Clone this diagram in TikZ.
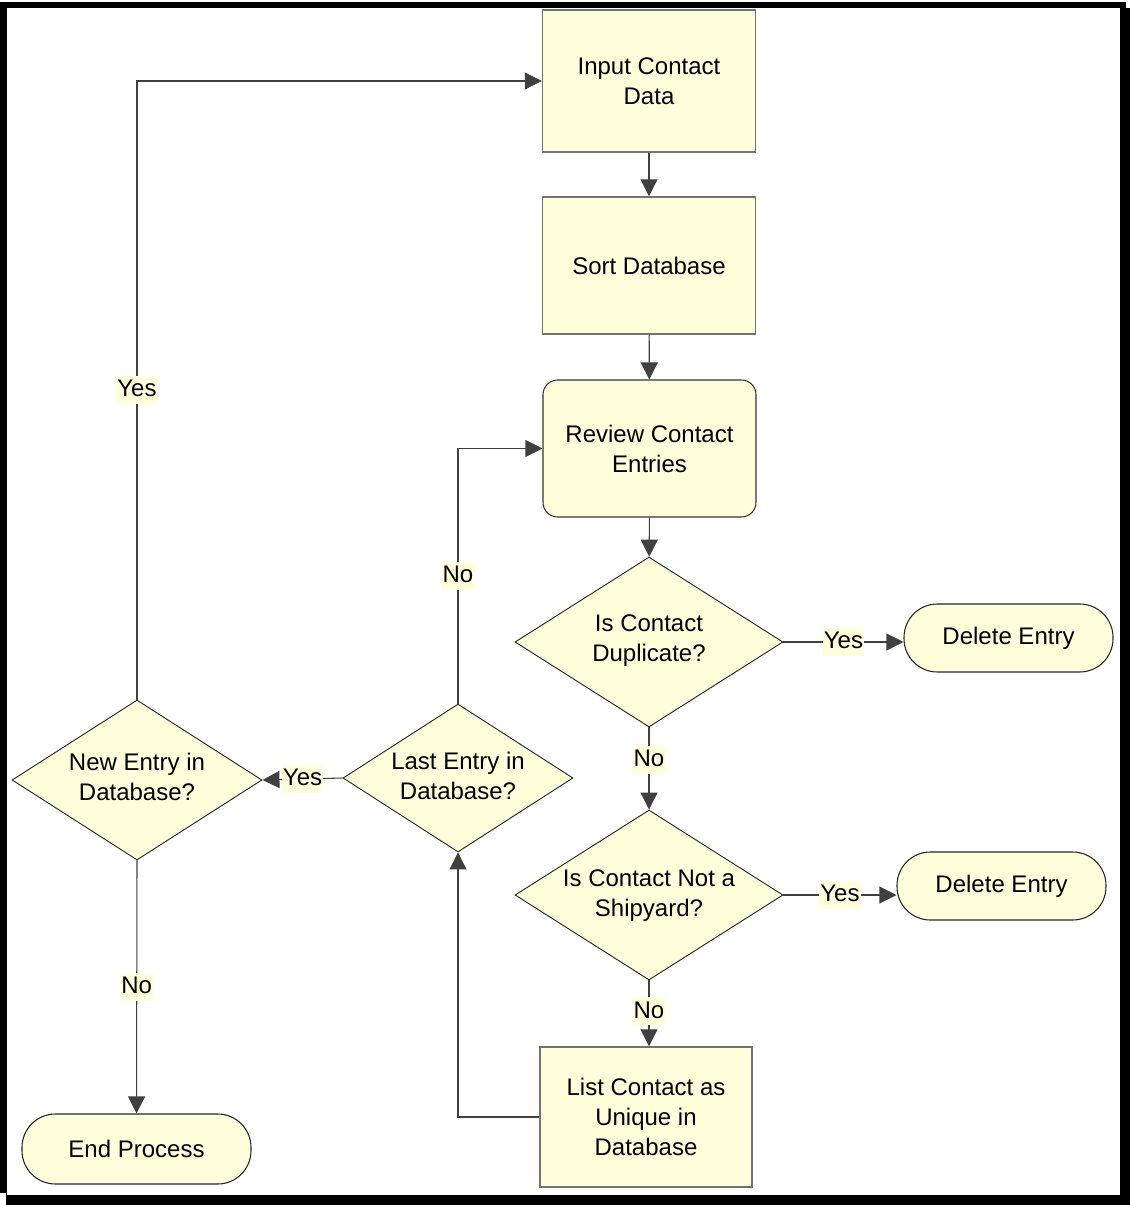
\documentclass[tikz,border=0pt]{standalone}
\usepackage{fontspec}
\setmainfont{Liberation Sans}
\usetikzlibrary{shapes.geometric,arrows.meta}
\definecolor{boxfill}{HTML}{FFFFDC}
\tikzset{
  base/.style={fill=boxfill, align=center, font=\fontsize{18}{22.5}\selectfont, inner sep=0pt},
  plaintext/.style={align=center, font=\fontsize{18}{22.5}\selectfont, inner sep=0pt},
  procbox/.style={base, draw=black!55, line width=1.1pt, rectangle, minimum width=159.75pt},
  roundbox/.style={base, draw=black!80, line width=0.8pt, rectangle, rounded corners=11pt, minimum width=159.75pt, minimum height=102.75pt},
  decision/.style={base, draw=black!85, line width=0.7pt, diamond},
  terminal/.style={base, draw=black!85, line width=0.8pt, rectangle, rounded corners=25pt},
  conn/.style={draw=black!75, line width=0.8pt},
  arr/.style={conn, -{Triangle[length=12.75pt,width=12.75pt]}},
  lbl/.style={fill=boxfill, font=\fontsize{18}{22.5}\selectfont, inner xsep=1pt, inner ysep=1.5pt, text height=14pt, text depth=4pt}
}
\begin{document}
\begin{tikzpicture}[x=0.75pt,y=-0.75pt]
\useasboundingbox (0,0) rectangle (1130,1205);
% frame with shadow
\fill[black] (0,2) rectangle (1126,1193);
\fill[black] (6,8) rectangle (1130,1205);
\fill[white] (7,8) rectangle (1120,1195);

% nodes
\node[procbox, minimum height=106.5pt] (input) at (649,81) {Input Contact\\Data};
\node[procbox, minimum height=102.75pt] (sort) at (649,265.5) {Sort Database};
\node[roundbox] (review) at (649.5,448.5) {Review Contact\\Entries};
\node[decision, minimum width=201pt, minimum height=127.5pt] (dup) at (649,642) {};
\node[plaintext] (duptext) at (649,641) {Is Contact\\Duplicate?};
\node[terminal, minimum width=156.75pt, minimum height=51pt] (del1) at (1008.5,638) {Delete Entry};
\node[decision, minimum width=201pt, minimum height=127.5pt] (ship) at (649,895) {};
\node[plaintext] (shiptext) at (649,896) {Is Contact Not a\\Shipyard?};
\node[terminal, minimum width=156.75pt, minimum height=51pt] (del2) at (1001.5,886) {Delete Entry};
\node[procbox, minimum width=159pt, minimum height=105pt] (list) at (646,1117) {List Contact as\\Unique in\\Database};
\node[decision, minimum width=172.5pt, minimum height=111pt] (last) at (458,778) {};
\node[plaintext] (lasttext) at (458,776) {Last Entry in\\Database?};
\node[decision, minimum width=187.5pt, minimum height=120pt] (new) at (137,780) {};
\node[plaintext] (newtext) at (137,777) {New Entry in\\Database?};
\node[terminal, minimum width=171.75pt, minimum height=52.5pt] (end) at (136.5,1149) {End Process};

% connectors
\draw[arr] (input) -- (sort);
\draw[arr] (sort) -- (review);
\draw[arr] (review) -- (dup);
\draw[arr] (dup.east) -- node[lbl] {Yes} (dup.east -| del1.west);
\draw[arr] (dup.south) -- node[lbl, pos=0.4] {No} (ship.north);
\draw[arr] (ship.east) -- node[lbl] {Yes} (ship.east -| del2.west);
\draw[arr] (ship.south) -- node[lbl, pos=0.47] {No} (ship.south |- list.north);
\draw[arr] (list.west) -| (last.south);
\draw[arr] (last.north) |- node[lbl, pos=0.25] {No} (review.west);
\draw[arr] (last.west) -- node[lbl] {Yes} (new.east);
\draw[arr] (new.north) |- node[lbl, pos=0.25] {Yes} (input.west);
\draw[arr] (new.south) -- node[lbl] {No} (end.north);
\end{tikzpicture}
\end{document}
